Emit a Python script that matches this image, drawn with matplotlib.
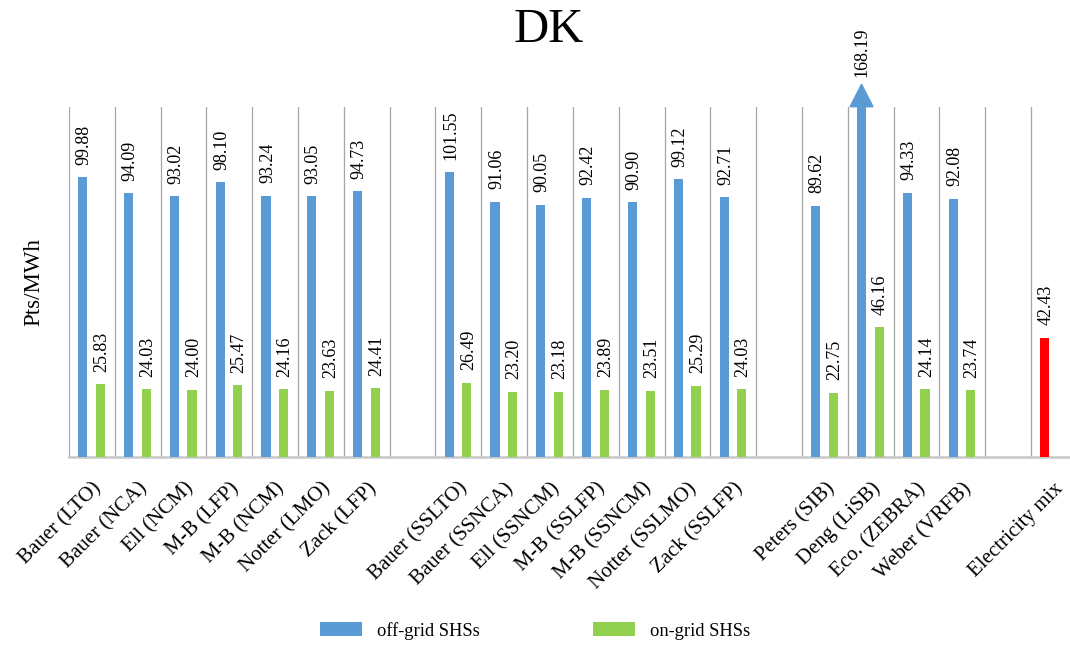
import numpy as np
import matplotlib.pyplot as plt
from matplotlib.patches import Polygon

plt.rcParams["font.family"] = ["Liberation Serif", "DejaVu Serif"]

# categories, "" marks an empty slot between groups
categories = ["Bauer (LTO)", "Bauer (NCA)", "Ell (NCM)", "M-B (LFP)", "M-B (NCM)",
              "Notter (LMO)", "Zack (LFP)", "",
              "Bauer (SSLTO)", "Bauer (SSNCA)", "Ell (SSNCM)", "M-B (SSLFP)",
              "M-B (SSNCM)", "Notter (SSLMO)", "Zack (SSLFP)", "",
              "Peters (SIB)", "Deng (LiSB)", "Eco. (ZEBRA)", "Weber (VRFB)", "",
              "Electricity mix"]

off_grid = [99.88, 94.09, 93.02, 98.10, 93.24, 93.05, 94.73, np.nan,
            101.55, 91.06, 90.05, 92.42, 90.90, 99.12, 92.71, np.nan,
            89.62, 168.19, 94.33, 92.08, np.nan, np.nan]
on_grid = [25.83, 24.03, 24.00, 25.47, 24.16, 23.63, 24.41, np.nan,
           26.49, 23.20, 23.18, 23.89, 23.51, 25.29, 24.03, np.nan,
           22.75, 46.16, 24.14, 23.74, np.nan, np.nan]
mix_value = 42.43

blue = "#5B9BD5"
green = "#92D050"
red = "#FF0000"
ymax = 125

fig = plt.figure(figsize=(10.7, 6.47), dpi=100)
ax = fig.add_axes([69 / 1070, 1 - 456.7 / 647, 1 - 69 / 1070, 350 / 647])

x = np.arange(len(categories)) + 0.5
w = 0.2
xb = x - 0.2
xg = x + 0.185

ax.bar(xb, off_grid, w, color=blue, label="off-grid SHSs", zorder=3)
ax.bar(xg, on_grid, w, color=green, label="on-grid SHSs", zorder=3)
ax.bar(xb[-1], mix_value, w, color=red, zorder=3)

ax.set_xlim(0, 21.85)
ax.set_ylim(0, ymax)

# value labels
for xs, vals in ((xb, off_grid), (xg, on_grid)):
    for xi, v in zip(xs, vals):
        if np.isnan(v):
            continue
        if v > ymax:
            # bar runs off the top: draw an arrow head and put the label above it
            head = 8
            tri = Polygon([[xi - 0.25, ymax], [xi + 0.25, ymax], [xi, ymax + head]],
                          closed=True, color=blue, clip_on=False, zorder=4)
            ax.add_patch(tri)
            ax.annotate(f"{v:.2f}", (xi, ymax + head), xytext=(0, 5),
                        textcoords="offset points", rotation=90,
                        ha="center", va="bottom", fontsize=13, annotation_clip=False)
        else:
            ax.annotate(f"{v:.2f}", (xi, v), xytext=(1, 9),
                        textcoords="offset points", rotation=90,
                        ha="center", va="bottom", fontsize=13)
ax.annotate(f"{mix_value:.2f}", (xb[-1], mix_value), xytext=(1, 9),
            textcoords="offset points", rotation=90,
            ha="center", va="bottom", fontsize=13)

# separators between categories
ax.set_xticks(np.arange(0, len(categories)), minor=True)
ax.set_xticks(x)
ax.set_xticklabels(categories, rotation=45, ha="right", rotation_mode="anchor",
                   fontsize=15)
ax.tick_params(axis="x", which="both", length=0, pad=16)
ax.grid(axis="x", which="minor", color="#A6A6A6", lw=0.9, zorder=0)
ax.grid(axis="x", which="major", visible=False)
ax.set_yticks([])

for s in ("top", "right", "left"):
    ax.spines[s].set_visible(False)
ax.spines["bottom"].set_color("#C8C8C8")
ax.spines["bottom"].set_linewidth(1.8)

ax.set_ylabel("Pts/MWh", fontsize=16.5)
ax.yaxis.set_label_coords(-0.025, 0.5)

fig.text(0.513, 1 - 42 / 647, "DK", fontsize=35, ha="center", va="baseline")

fig.legend(loc="center", bbox_to_anchor=(0.5, 0.025), ncol=2, frameon=False,
           fontsize=13.3, handlelength=2.3, handleheight=0.8,
           handletextpad=0.8, columnspacing=6.1)

fig.savefig("out.png", dpi=100)
